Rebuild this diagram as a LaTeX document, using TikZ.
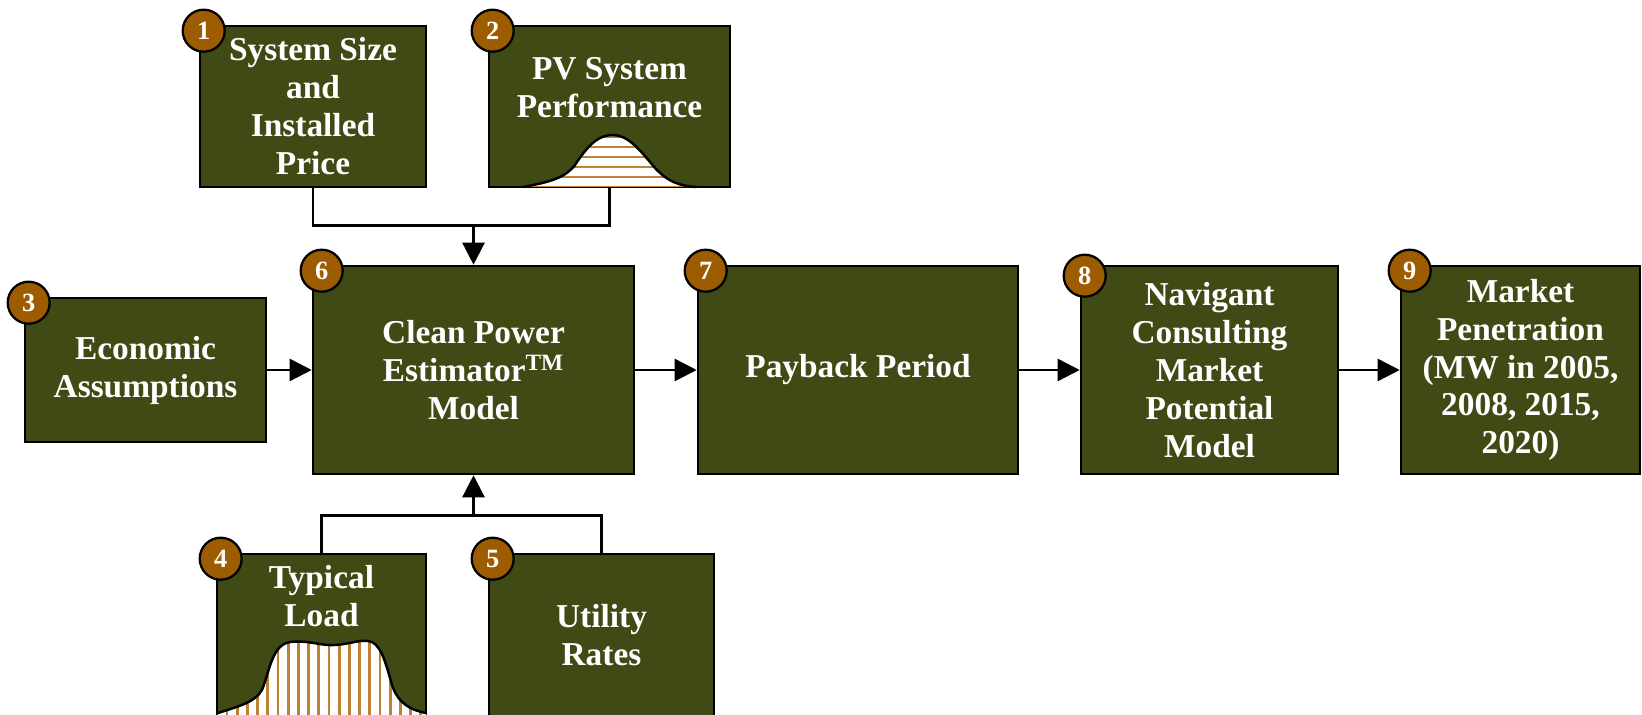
\documentclass[tikz,border=0pt]{standalone}
\usepackage{fontspec}
\setmainfont{Liberation Serif}
\usetikzlibrary{arrows.meta,positioning}
\definecolor{boxgreen}{RGB}{64,74,20}
\definecolor{badgebrown}{RGB}{158,92,0}
\definecolor{stripebrown}{RGB}{190,130,55}

\begin{document}
\begin{tikzpicture}[x=0.02cm,y=-0.02cm,
	box/.style={draw=black, line width=1.5pt, fill=boxgreen, text=white, align=center, inner sep=0pt,
		font=\bfseries\fontsize{19}{21.6}\selectfont},
	txt/.style={text=white, align=center, inner sep=0pt, font=\bfseries\fontsize{19}{21.6}\selectfont},
	badge/.style={circle, draw=black, line width=1.3pt, fill=badgebrown, text=white, minimum size=0.84cm,
		inner sep=0pt, font=\bfseries\fontsize{15}{16}\selectfont, shift={(5,6)}},
	link/.style={line width=1.4pt},
	arr/.style={link, -{Triangle[length=0.44cm, width=0.44cm]}},
	stripe/.style={stripebrown, line width=1.6pt}]
		\useasboundingbox (0,0) rectangle (1642,715);

		% Define boxes
		\node[box, minimum width=4.52cm, minimum height=3.22cm] (b1) at (313,106.5) {System Size\\and\\Installed\\Price};
		\node[box, minimum width=4.82cm, minimum height=3.22cm] (b2) at (609.5,106.5) {};
		\node[box, minimum width=4.82cm, minimum height=2.88cm] (b3) at (145.5,370) {Economic\\Assumptions};
		\node[box, minimum width=4.18cm, minimum height=3.24cm] (b4) at (321.5,635) {};
		\node[box, minimum width=4.50cm, minimum height=3.24cm] (b5) at (601.5,635) {Utility\\Rates};
		\node[box, minimum width=6.42cm, minimum height=4.16cm] (b6) at (473.5,370) {Clean Power\\Estimator\textsuperscript{TM}\\Model};
		\node[box, minimum width=6.40cm, minimum height=4.16cm] (b7) at (858,370) {Payback Period};
		\node[box, minimum width=5.14cm, minimum height=4.16cm] (b8) at (1209.5,370) {Navigant\\Consulting\\Market\\Potential\\Model};
		\node[box, minimum width=4.78cm, minimum height=4.16cm] (b9) at (1520.5,370) {Market\\Penetration\\(MW in 2005,\\2008, 2015,\\2020)};

		% Draw the curves
		\begin{scope}
			\clip (523,187) .. controls (550,182) and (565,178) .. (575,165) .. controls (590,142) and (600,135) .. (613,135)
				.. controls (628,135) and (640,150) .. (655,168) .. controls (668,182) and (680,186) .. (696,187) -- cycle;
			\fill[white] (500,130) rectangle (720,190);
			\foreach \y in {137,147,...,187} \draw[stripe] (500,\y) -- (720,\y);
		\end{scope}
		\draw[link] (523,187) .. controls (550,182) and (565,178) .. (575,165) .. controls (590,142) and (600,135) .. (613,135)
			.. controls (628,135) and (640,150) .. (655,168) .. controls (668,182) and (680,186) .. (696,187);

		\begin{scope}
			\clip (218,713) .. controls (240,706) and (255,702) .. (262,690) .. controls (270,670) and (272,645) .. (290,642)
				.. controls (310,640) and (320,646) .. (335,645) .. controls (350,644) and (358,640) .. (368,641)
				.. controls (380,642) and (385,660) .. (392,685) .. controls (398,703) and (410,710) .. (426,713) -- (426,716) -- (218,716) -- cycle;
			\fill[white] (217,630) rectangle (426,716);
			\foreach \x in {227,237.2,...,426} \draw[stripe] (\x,630) -- (\x,716);
		\end{scope}
		\draw[link] (218,713) .. controls (240,706) and (255,702) .. (262,690) .. controls (270,670) and (272,645) .. (290,642)
			.. controls (310,640) and (320,646) .. (335,645) .. controls (350,644) and (358,640) .. (368,641)
			.. controls (380,642) and (385,660) .. (392,685) .. controls (398,703) and (410,710) .. (426,713);

		% Texts over the curves
		\node[txt] (t2) at (609.5,87.5) {PV System\\Performance};
		\node[txt] (t4) at (321.5,596) {Typical\\Load};

		% Numbers
		\node[badge] (n1) at (b1.north west) {1};
		\node[badge] (n2) at (b2.north west) {2};
		\node[badge] (n3) at (b3.north west) {3};
		\node[badge] (n4) at (b4.north west) {4};
		\node[badge] (n5) at (b5.north west) {5};
		\node[badge, xshift=0.1cm] (n6) at (b6.north west) {6};
		\node[badge, xshift=0.08cm] (n7) at (b7.north west) {7};
		\node[badge, yshift=-0.1cm] (n8) at (b8.north west) {8};
		\node[badge, xshift=0.1cm] (n9) at (b9.north west) {9};

		% Connectors
		\coordinate[above=0.78cm of b6.north] (jtop);
		\coordinate[below=0.8cm of b6.south] (jbot);
		\draw[link] (b1.south) |- (jtop) -| (b2.south);
		\draw[arr] (jtop) -- (b6.north);
		\draw[link] (b4.north) |- (jbot) -| (b5.north);
		\draw[arr] (jbot) -- (b6.south);
		\draw[arr] (b3) -- (b6);
		\draw[arr] (b6) -- (b7);
		\draw[arr] (b7) -- (b8);
		\draw[arr] (b8) -- (b9);
	\end{tikzpicture}
\end{document}
